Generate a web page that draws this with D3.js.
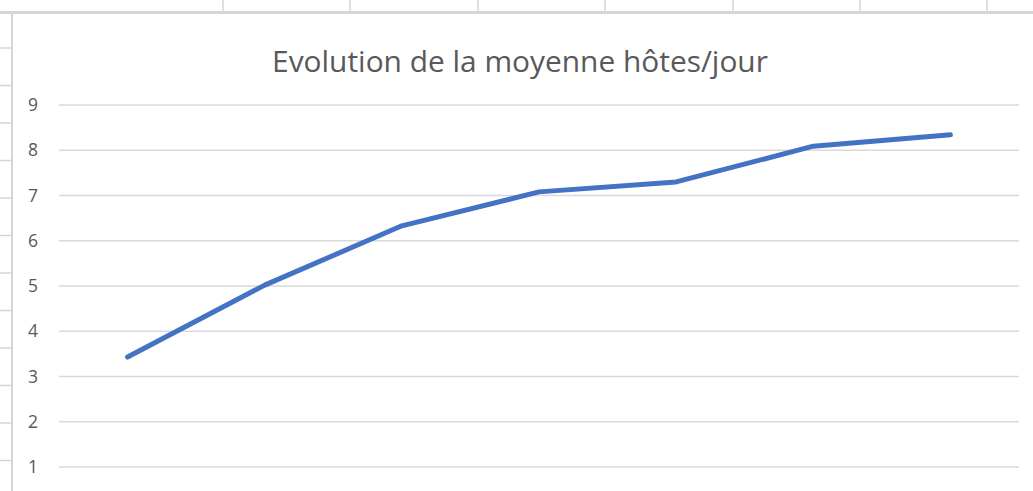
<!DOCTYPE html>
<html>
<head>
<meta charset="utf-8">
<script src="https://cdn.jsdelivr.net/npm/d3@7"></script>
<style>
  html, body { margin: 0; padding: 0; background: #ffffff; }
  svg { display: block; }
</style>
</head>
<body>
<svg id="chart" width="1033" height="491"></svg>
<script>
const title = "Evolution de la moyenne hôtes/jour";
const categories = ["1", "2", "3", "4", "5", "6", "7"];
const values = [3.43, 5.02, 6.33, 7.08, 7.30, 8.09, 8.34];
const yTicks = [1, 2, 3, 4, 5, 6, 7, 8, 9];

const W = 1033, H = 491;
const svg = d3.select("#chart");

// spreadsheet background: column lines at top, row lines at left
const colLines = [223, 350, 478, 605, 733, 860, 987];
const rowLines = d3.range(48, H, 37.5);
svg.selectAll("line.col").data(colLines).enter().append("line")
  .attr("x1", d => d).attr("x2", d => d).attr("y1", 0).attr("y2", 12)
  .attr("stroke", "#d4d4d4").attr("stroke-width", 1.5);
svg.selectAll("line.row").data(rowLines).enter().append("line")
  .attr("x1", 0).attr("x2", 11).attr("y1", d => d).attr("y2", d => d)
  .attr("stroke", "#d4d4d4").attr("stroke-width", 1.5);

// chart area
svg.append("rect").attr("x", 12.5).attr("y", 13).attr("width", W).attr("height", H)
  .attr("fill", "#ffffff");
svg.append("line").attr("x1", 0).attr("x2", W).attr("y1", 12.5).attr("y2", 12.5)
  .attr("stroke", "#d6d6d6").attr("stroke-width", 3);
svg.append("line").attr("x1", 12).attr("x2", 12).attr("y1", 12).attr("y2", H)
  .attr("stroke", "#d6d6d6").attr("stroke-width", 2);

const left = 59, right = 1019;
const x = d3.scalePoint().domain(categories).range([left, right]).padding(0.5);
const y = d3.scaleLinear().domain([1, 9]).range([467, 105]);

// gridlines
svg.append("g").selectAll("line").data(yTicks).enter().append("line")
  .attr("x1", left).attr("x2", right)
  .attr("y1", d => y(d)).attr("y2", d => y(d))
  .attr("stroke", "#d9d9d9").attr("stroke-width", 1.5);

// y axis labels
const yAxis = d3.axisLeft(y).tickValues(yTicks).tickSize(0).tickPadding(0)
  .tickFormat(d3.format("d"));
const ga = svg.append("g").attr("transform", "translate(38,0)").call(yAxis);
ga.select(".domain").remove();
ga.selectAll("text").attr("fill", "#595959")
  .style("font-family", "'Open Sans', 'Liberation Sans', sans-serif")
  .style("font-size", "17.5px");

// line
const line = d3.line().x((d, i) => x(categories[i])).y(d => y(d));
svg.append("path").datum(values).attr("d", line)
  .attr("fill", "none").attr("stroke", "#4472c4").attr("stroke-width", 5)
  .attr("stroke-linecap", "round").attr("stroke-linejoin", "round");

// title
const t = svg.append("text").attr("x", 520).attr("y", 72).attr("text-anchor", "middle")
  .attr("fill", "#595959")
  .style("font-family", "'Open Sans', 'Liberation Sans', sans-serif")
  .style("font-size", "28px").text(title);
const len = t.node().getComputedTextLength();
const fs = 28 * 496 / len;
t.style("font-size", fs.toFixed(2) + "px");
</script>
</body>
</html>
